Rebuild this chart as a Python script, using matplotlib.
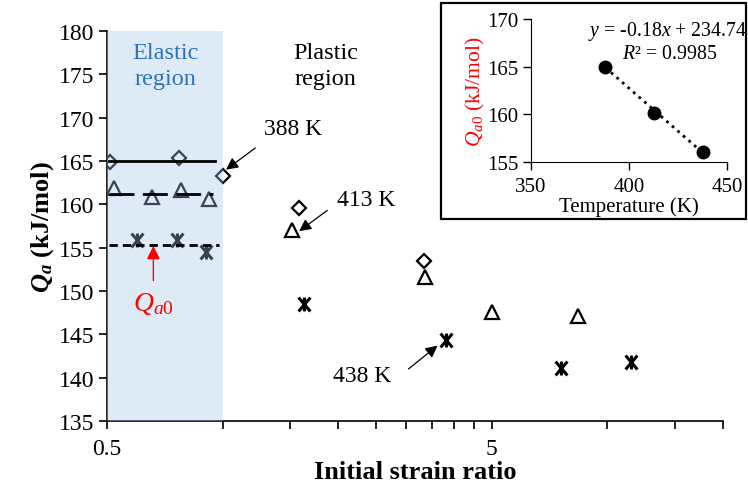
import numpy as np
import matplotlib

matplotlib.use('Agg')
import matplotlib.pyplot as plt
from matplotlib.path import Path
from matplotlib.patches import Rectangle
from matplotlib.ticker import FixedLocator, FixedFormatter, NullFormatter

plt.rcParams['font.family'] = 'Liberation Serif'
plt.rcParams['mathtext.fontset'] = 'custom'
plt.rcParams['mathtext.rm'] = 'Liberation Serif'
plt.rcParams['mathtext.it'] = 'Liberation Serif:italic'
plt.rcParams['mathtext.bf'] = 'Liberation Serif:bold'
plt.rcParams['mathtext.bfit'] = 'Liberation Serif:bold:italic'

# Activation energy vs initial strain ratio, per test temperature
x_388 = [0.51, 0.77, 1.0, 1.58, 3.33]
q_388 = [164.9, 165.3, 163.3, 159.6, 153.5]

x_413 = [0.52, 0.655, 0.78, 0.92, 1.51, 3.35, 5.0, 8.4]
q_413 = [161.9, 160.8, 161.6, 160.6, 157.0, 151.6, 147.6, 147.1]

x_438 = [0.60, 0.76, 0.905, 1.63, 3.8, 7.6, 11.5]
q_438 = [155.9, 155.9, 154.5, 148.5, 144.3, 141.1, 141.8]

# Elastic-region averages (level, end of line)
qa0_levels = [165.0, 161.2, 155.3]
qa0_ends = [0.955, 0.945, 0.98]

# Inset: Qa0 vs temperature and its linear fit
temps = [388, 413, 438]
qa0 = [165.0, 160.1, 156.0]
fit_slope = -0.18
fit_icept = 234.74
fit_r2 = 0.9985

elastic_limit = 1.0
x_minor = [1, 1.5, 2, 2.5, 3, 3.5, 4, 4.5, 10, 15, 20]

# six-armed asterisk marker
star = Path([(-0.85, -1), (0.85, 1), (-0.85, 1), (0.85, -1), (0, -1), (0, 1)],
            [Path.MOVETO, Path.LINETO] * 3)

fig = plt.figure(figsize=(7.48, 4.89), dpi=100)
ax = fig.add_axes([107 / 748, 1 - 422 / 489, (723 - 107) / 748, (422 - 32) / 489])

mk = dict(linestyle='none', color='black', mfc='none', zorder=2)
ax.plot(x_388, q_388, marker='D', ms=7, mew=1.6, **mk)
ax.plot(x_413, q_413, marker='^', ms=10, mew=1.6, **mk)
ax.plot(x_438, q_438, marker=star, ms=10, mew=2.2, **mk)

# translucent shade over the elastic range
ax.axvspan(0.5, elastic_limit, color=(0.63, 0.77, 0.91), alpha=0.35, lw=0, zorder=3)

styles = ['-', (0, (9, 3)), (0, (3, 1.8))]
for lvl, end, ls in zip(qa0_levels, qa0_ends, styles):
  ax.plot([0.505, end], [lvl, lvl], color='black', lw=2, linestyle=ls, zorder=4)

ax.set_xscale('log')
ax.set_xlim(0.5, 20)
ax.set_ylim(135, 180)
ax.xaxis.set_major_locator(FixedLocator([0.5, 5]))
ax.xaxis.set_minor_locator(FixedLocator(x_minor))
ax.xaxis.set_major_formatter(FixedFormatter(['0.5', '5']))
ax.xaxis.set_minor_formatter(NullFormatter())
ax.set_yticks(np.arange(135, 181, 5))
ax.tick_params(axis='both', which='both', direction='out', length=6, width=1.2,
               labelsize=17, colors='black')
ax.tick_params(axis='x', pad=6)
ax.tick_params(axis='y', pad=3)
for s in ['top', 'right']:
  ax.spines[s].set_visible(False)
for s in ['left', 'bottom']:
  ax.spines[s].set_linewidth(1.2)

ax.set_xlabel('Initial strain ratio', fontsize=19, fontweight='bold', labelpad=1)
ax.set_ylabel(r'$\mathbfit{Q_a}$ (kJ/mol)', fontsize=19, fontweight='bold', labelpad=2)

ax.text(0.71, 176.0, 'Elastic\nregion', color='#2E75B6', fontsize=17.5,
        ha='center', va='center', linespacing=1.3, zorder=5)
ax.text(1.85, 176.0, 'Plastic\nregion', color='black', fontsize=17.5,
        ha='center', va='center', linespacing=1.3, zorder=5)

arrow = dict(arrowstyle='-|>', color='black', lw=0.9, mutation_scale=18,
             shrinkA=0, shrinkB=0)
ax.annotate('', xy=(1.02, 164.0), xytext=(1.215, 166.5), arrowprops=arrow)
ax.text(1.28, 168.7, '388 K', fontsize=17, ha='left', va='center')
ax.annotate('', xy=(1.58, 156.9), xytext=(1.87, 159.3), arrowprops=arrow)
ax.text(1.98, 160.6, '413 K', fontsize=17, ha='left', va='center')
ax.annotate('', xy=(3.62, 143.7), xytext=(3.04, 141.0), arrowprops=arrow)
ax.text(2.75, 140.2, '438 K', fontsize=17, ha='right', va='center')

red_arrow = dict(arrowstyle='-|>', color='red', lw=1.0, mutation_scale=20,
                 shrinkA=0, shrinkB=0)
ax.annotate('', xy=(0.66, 155.2), xytext=(0.66, 151.2), arrowprops=red_arrow, zorder=5)
ax.text(0.66, 148.6, r'$Q_{a\mathrm{0}}$', color='red', fontsize=20,
        ha='center', va='center', zorder=5)

# inset panel
fig.patches.append(Rectangle((441 / 748, 1 - 220 / 489), (746 - 441) / 748, (220 - 4) / 489,
                             transform=fig.transFigure, facecolor='white',
                             edgecolor='black', lw=1.6, zorder=5))
axi = fig.add_axes([531 / 748, 1 - 163 / 489, (727 - 531) / 748, (163 - 20) / 489], zorder=6)
axi.patch.set_alpha(0)
t_fit = np.array([temps[0], temps[-1]])
axi.plot(t_fit, fit_slope * t_fit + fit_icept, color='black', lw=2, linestyle=':')
axi.plot(temps, qa0, 'o', color='black', ms=9)
axi.set_xlim(350, 450)
axi.set_ylim(155, 170)
axi.set_xticks([350, 400, 450])
axi.set_yticks([155, 160, 165, 170])
axi.tick_params(direction='out', length=6, width=1.0, labelsize=15, colors='black')
axi.tick_params(axis='x', pad=5)
axi.tick_params(axis='y', pad=3)
for s in ['top', 'right']:
  axi.spines[s].set_visible(False)
axi.set_xlabel('Temperature (K)', fontsize=15, labelpad=0)
axi.set_ylabel(r'$Q_{a0}$ (kJ/mol)', fontsize=15.5, color='red', labelpad=0)
axi.text(419.5, 168.8, rf'$y$ = {fit_slope}$x$ + {fit_icept}', fontsize=14.3,
         ha='center', va='center')
axi.text(420.5, 166.4, rf'$R$² = {fit_r2}', fontsize=14.3, ha='center', va='center')

fig.savefig('out.png', dpi=100)
